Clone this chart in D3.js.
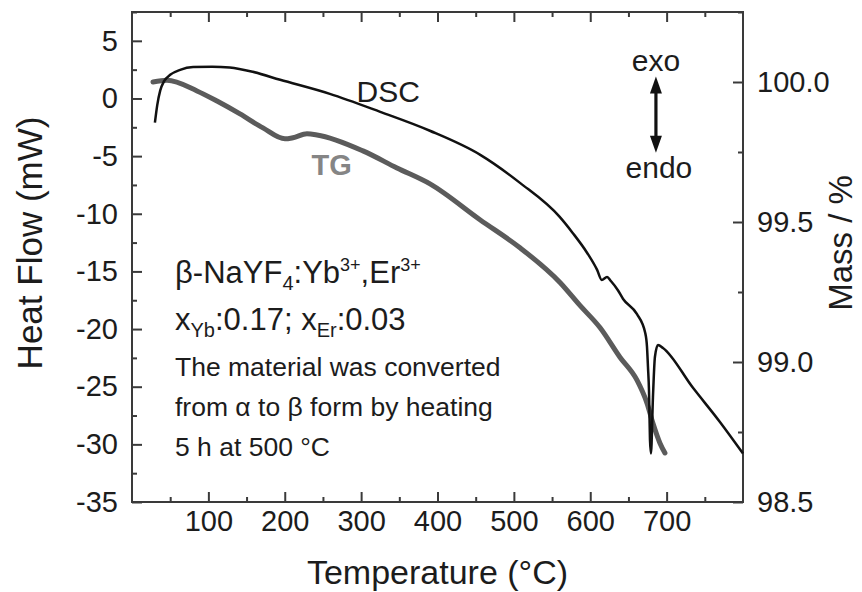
<!DOCTYPE html>
<html>
<head>
<meta charset="utf-8">
<script src="https://cdn.jsdelivr.net/npm/d3@7"></script>
<style>
  html, body { margin: 0; padding: 0; background: #fff; }
  svg { display: block; font-family: "Liberation Sans", Arial, sans-serif; }
</style>
</head>
<body>
<svg id="chart" width="862" height="592"></svg>
<script>
// DSC heat-flow trace (temperature in °C, heat flow in mW)
const dscTemp = [30, 33, 37, 42, 50, 63, 80, 105, 128, 158, 194, 259, 325, 390, 456, 508, 560, 577, 596, 609, 615, 622, 627, 636, 643, 661, 672, 674.3, 675.6, 676.9, 678.2, 679.5, 682.1, 684.7, 688.7, 695.2, 734.5, 769.8, 800];
const dscHeat = [-2.1, -0.6, 0.7, 1.5, 2.05, 2.48, 2.72, 2.75, 2.68, 2.31, 1.62, 0.40, -1.16, -2.80, -4.89, -7.32, -10.27, -11.66, -13.4, -14.87, -15.74, -15.48, -15.83, -16.61, -17.39, -18.69, -20.34, -21.55, -23.3, -25.3, -29.6, -30.8, -25.9, -22.4, -21.38, -21.64, -25.1, -28.06, -30.8];

// TG mass trace (temperature in °C, mass in %)
const tgTemp = [27.5, 45.8, 85.1, 111.3, 141.4, 171.5, 200.3, 210.8, 229.1, 242.2, 302.4, 346.9, 390.2, 455.6, 508, 560.4, 586.5, 612.7, 638.9, 661.2, 674.3, 682.1, 691.3, 697.8];
const tgMass = [100.0, 100.006, 99.968, 99.932, 99.886, 99.836, 99.797, 99.801, 99.815, 99.811, 99.754, 99.693, 99.636, 99.508, 99.408, 99.284, 99.202, 99.123, 99.017, 98.935, 98.853, 98.781, 98.71, 98.675];

// Axis ticks
const tempTicks = [100, 200, 300, 400, 500, 600, 700];
const tempMinorTicks = [50, 150, 250, 350, 450, 550, 650, 750];
const heatTicks = [5, 0, -5, -10, -15, -20, -25, -30, -35];
const heatMinorTicks = [7.5, 2.5, -2.5, -7.5, -12.5, -17.5, -22.5, -27.5, -32.5];
const massTicks = [98.5, 99.0, 99.5, 100.0];
const massMinorTicks = [98.75, 99.25, 99.75, 100.25];

const svg = d3.select("#chart");
const plot = { left: 132, right: 743, top: 12, bottom: 502 };

const x = d3.scaleLinear().domain([0, 800]).range([plot.left, plot.right]);
const yHeat = d3.scaleLinear().domain([-35, 7.5]).range([plot.bottom, plot.top]);
const yMass = d3.scaleLinear().domain([98.5, 100.25]).range([plot.bottom, plot.top]);

const axisColor = "#3a3a3a";
const textColor = "#1c1c1c";
const tickFont = 29;

function styleAxis(g) {
  g.select(".domain").remove();
  g.selectAll(".tick line").attr("stroke", axisColor).attr("stroke-width", 2);
  g.selectAll(".tick text").attr("fill", textColor).attr("font-size", tickFont)
    .attr("font-family", "'Liberation Sans', Arial, sans-serif");
}

// Bottom axis (labelled) and minor ticks
svg.append("g").attr("transform", `translate(0,${plot.bottom})`)
  .call(d3.axisBottom(x).tickValues(tempTicks).tickSize(-10).tickPadding(8).tickFormat(d3.format("d")))
  .call(styleAxis);
svg.append("g").attr("transform", `translate(0,${plot.bottom})`)
  .call(d3.axisBottom(x).tickValues(tempMinorTicks).tickSize(-5).tickFormat(""))
  .call(styleAxis);
// Top mirror ticks
svg.append("g").attr("transform", `translate(0,${plot.top})`)
  .call(d3.axisTop(x).tickValues(tempTicks).tickSize(-10).tickFormat(""))
  .call(styleAxis);
svg.append("g").attr("transform", `translate(0,${plot.top})`)
  .call(d3.axisTop(x).tickValues(tempMinorTicks).tickSize(-5).tickFormat(""))
  .call(styleAxis);

// Left axis: heat flow
svg.append("g").attr("transform", `translate(${plot.left},0)`)
  .call(d3.axisLeft(yHeat).tickValues(heatTicks).tickSize(-10).tickPadding(14).tickFormat(d => d3.format("d")(d).replace("−", "-")))
  .call(styleAxis);
svg.append("g").attr("transform", `translate(${plot.left},0)`)
  .call(d3.axisLeft(yHeat).tickValues(heatMinorTicks).tickSize(-5).tickFormat(""))
  .call(styleAxis);

// Right axis: mass
svg.append("g").attr("transform", `translate(${plot.right},0)`)
  .call(d3.axisRight(yMass).tickValues(massTicks).tickSize(-10).tickPadding(14).tickFormat(d3.format(".1f")))
  .call(styleAxis);
svg.append("g").attr("transform", `translate(${plot.right},0)`)
  .call(d3.axisRight(yMass).tickValues(massMinorTicks).tickSize(-5).tickFormat(""))
  .call(styleAxis);

// Frame
svg.append("rect")
  .attr("x", plot.left).attr("y", plot.top)
  .attr("width", plot.right - plot.left).attr("height", plot.bottom - plot.top)
  .attr("fill", "none").attr("stroke", axisColor).attr("stroke-width", 2);

// Curves
const tgLine = d3.line().x(d => x(d[0])).y(d => yMass(d[1])).curve(d3.curveMonotoneX);
const dscLine = d3.line().x(d => x(d[0])).y(d => yHeat(d[1])).curve(d3.curveMonotoneX);

svg.append("path")
  .datum(d3.zip(tgTemp, tgMass))
  .attr("d", tgLine)
  .attr("fill", "none").attr("stroke", "#5b5b5b").attr("stroke-width", 5)
  .attr("stroke-linejoin", "round").attr("stroke-linecap", "round");

svg.append("path")
  .datum(d3.zip(dscTemp, dscHeat))
  .attr("d", dscLine)
  .attr("fill", "none").attr("stroke", "#111").attr("stroke-width", 2.5)
  .attr("stroke-linejoin", "round");

// Axis titles
svg.append("text")
  .attr("x", (plot.left + plot.right) / 2).attr("y", 584)
  .attr("text-anchor", "middle").attr("font-size", 34).attr("fill", textColor)
  .text("Temperature (°C)");

svg.append("text")
  .attr("transform", `translate(42,${(plot.top + plot.bottom) / 2 - 14}) rotate(-90)`)
  .attr("text-anchor", "middle").attr("font-size", 35).attr("fill", textColor)
  .text("Heat Flow (mW)");

svg.append("text")
  .attr("transform", `translate(852,${(plot.top + plot.bottom) / 2 - 14}) rotate(-90)`)
  .attr("text-anchor", "middle").attr("font-size", 33).attr("fill", textColor)
  .text("Mass / %");

// Curve labels
svg.append("text")
  .attr("x", x(294)).attr("y", yHeat(-0.3))
  .attr("font-size", 30).attr("fill", textColor)
  .text("DSC");

svg.append("text")
  .attr("x", x(235)).attr("y", yHeat(-6.6))
  .attr("font-size", 29).attr("font-weight", "bold").attr("fill", "#858585")
  .text("TG");

// exo / endo direction arrow
const arrowX = x(686);
const arrowTop = yHeat(1.9);
const arrowBottom = yHeat(-4.7);
const head = 17, halfW = 6;
svg.append("line")
  .attr("x1", arrowX).attr("x2", arrowX)
  .attr("y1", arrowTop + head - 2).attr("y2", arrowBottom - head + 2)
  .attr("stroke", "#111").attr("stroke-width", 3.2);
svg.append("path")
  .attr("d", `M${arrowX},${arrowTop} L${arrowX - halfW},${arrowTop + head} L${arrowX + halfW},${arrowTop + head} Z`)
  .attr("fill", "#111");
svg.append("path")
  .attr("d", `M${arrowX},${arrowBottom} L${arrowX - halfW},${arrowBottom - head} L${arrowX + halfW},${arrowBottom - head} Z`)
  .attr("fill", "#111");

svg.append("text")
  .attr("x", arrowX).attr("y", arrowTop - 6)
  .attr("text-anchor", "middle").attr("font-size", 30).attr("fill", textColor)
  .text("exo");
svg.append("text")
  .attr("x", arrowX + 3).attr("y", arrowBottom + 25)
  .attr("text-anchor", "middle").attr("font-size", 30).attr("fill", textColor)
  .text("endo");

// Sample description
const note = svg.append("g").attr("fill", textColor);
const noteX = 175;

const l1 = note.append("text").attr("x", noteX).attr("y", 283).attr("font-size", 31);
l1.append("tspan").text("β-NaYF");
l1.append("tspan").attr("font-size", 20).attr("dy", 7).text("4");
l1.append("tspan").attr("dy", -7).text(":Yb");
l1.append("tspan").attr("font-size", 18).attr("dy", -12).text("3+");
l1.append("tspan").attr("dy", 12).text(",Er");
l1.append("tspan").attr("font-size", 18).attr("dy", -12).text("3+");

const l2 = note.append("text").attr("x", noteX).attr("y", 330).attr("font-size", 31);
l2.append("tspan").text("x");
l2.append("tspan").attr("font-size", 20).attr("dy", 7).text("Yb");
l2.append("tspan").attr("dy", -7).text(":0.17; x");
l2.append("tspan").attr("font-size", 20).attr("dy", 7).text("Er");
l2.append("tspan").attr("dy", -7).text(":0.03");

const smallLines = ["The material was converted", "from α to β form by heating", "5 h at 500 °C"];
note.selectAll("text.small").data(smallLines).join("text")
  .attr("class", "small")
  .attr("x", noteX).attr("y", (d, i) => 376 + i * 40)
  .attr("font-size", 26.5)
  .text(d => d);
</script>
</body>
</html>
